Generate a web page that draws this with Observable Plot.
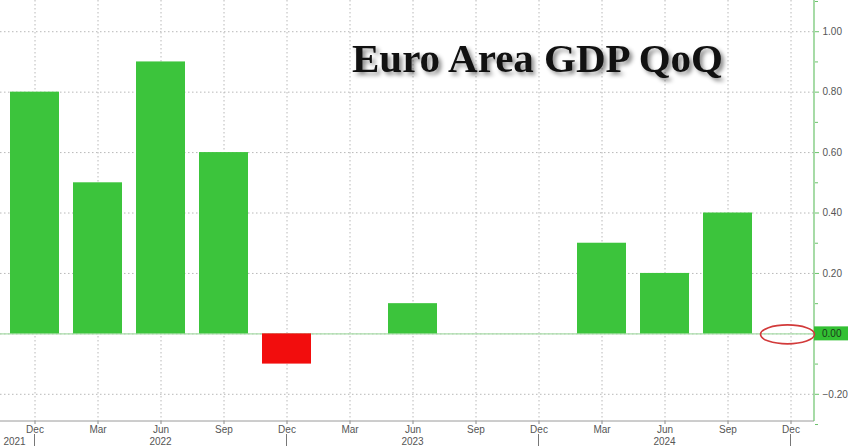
<!DOCTYPE html>
<html>
<head>
<meta charset="utf-8">
<script src="https://cdn.jsdelivr.net/npm/d3@7"></script>
<script src="https://cdn.jsdelivr.net/npm/@observablehq/plot@0.6"></script>
<style>
  html, body { margin: 0; padding: 0; background: #fff; }
  #chart svg { display: block; }
</style>
</head>
<body>
<div id="chart"></div>
<script>
const title = "Euro Area GDP QoQ";
const months = ["Dec","Mar","Jun","Sep","Dec","Mar","Jun","Sep","Dec","Mar","Jun","Sep","Dec"];
const years  = [2021, 2022, 2022, 2022, 2022, 2023, 2023, 2023, 2023, 2024, 2024, 2024, 2024];
const values = [0.8, 0.5, 0.9, 0.6, -0.1, 0.0, 0.1, 0.0, 0.0, 0.3, 0.2, 0.4, null];
const yTicks = [-0.2, 0, 0.2, 0.4, 0.6, 0.8, 1.0];
const yMinorTicks = [-0.3, -0.1, 0.1, 0.3, 0.5, 0.7, 0.9, 1.1];
const yearLabels = ["2021", "2022", "2023", "2024"];
const yearLabelMonth = ["Dec", "Jun", "Jun", "Jun"];

const keys = months.map((m, i) => `${m} ${years[i]}`);
const data = keys.map((k, i) => ({key: k, month: months[i], year: years[i], value: values[i]}));
const yearData = yearLabels.map((y, i) => ({year: y, key: `${yearLabelMonth[i]} ${y}`}));
const highlightKey = keys[keys.length - 1];

const GREEN = "#3cc43c";
const RED = "#f20d0d";
const AXIS_GREEN = "#6cc36c";
const GRID = "#b8b8b8";
const LABEL = "#555";
const narrow = "'Liberation Sans Narrow', 'Arial Narrow', 'Liberation Sans', sans-serif";

function extras(index, scales, values, dims) {
  const g = d3.create("svg:g");
  const x = scales.x, y = scales.y;
  const bw = x.bandwidth ? x.bandwidth() / 2 : 0;
  const right = dims.width - dims.marginRight;
  const bottom = dims.height - dims.marginBottom;
  // bottom axis line
  g.append("line").attr("x1", 0).attr("x2", right).attr("y1", bottom).attr("y2", bottom)
    .attr("stroke", "#9a9a9a").attr("stroke-width", 1);
  // right axis line
  g.append("line").attr("x1", right).attr("x2", right).attr("y1", 0).attr("y2", bottom)
    .attr("stroke", AXIS_GREEN).attr("stroke-width", 1.2);
  // year separators
  data.filter(d => d.month === "Dec").forEach(d => {
    const cx = x(d.key) + bw;
    g.append("line").attr("x1", cx).attr("x2", cx).attr("y1", bottom + 13).attr("y2", dims.height)
      .attr("stroke", "#777").attr("stroke-width", 1);
  });
  // year labels
  yearData.forEach(d => {
    const cx = x(d.key) + bw + (d.year === yearLabels[0] ? -20 : 0);
    g.append("text").attr("x", cx).attr("y", bottom + 20).attr("dy", "0.35em")
      .attr("text-anchor", "middle").attr("font-family", narrow).attr("font-size", 10)
      .attr("fill", LABEL).text(d.year);
  });
  // highlighted zero label box
  const y0 = y(0);
  g.append("rect").attr("x", right).attr("y", y0 - 7).attr("width", dims.width - right).attr("height", 14)
    .attr("fill", "#33c033");
  g.append("text").attr("x", right + 8).attr("y", y0).attr("dy", "0.35em")
    .attr("text-anchor", "start")
    .attr("font-family", "'Liberation Sans', Arial, sans-serif").attr("font-size", 10)
    .attr("fill", "#1a3a1a").text(d3.format(".2f")(0));
  // red ellipse at the latest (not yet released) quarter
  g.append("ellipse").attr("cx", x(highlightKey) + bw - 3).attr("cy", y0 + 1)
    .attr("rx", 27).attr("ry", 9.5)
    .attr("fill", "none").attr("stroke", "#d23a3a").attr("stroke-width", 1.6);
  // title with shadow
  g.append("text").attr("x", 352).attr("y", 72)
    .attr("text-anchor", "start")
    .attr("font-family", "'Liberation Serif', 'Times New Roman', serif")
    .attr("font-weight", "bold").attr("font-size", 41).attr("fill", "#111")
    .style("filter", "drop-shadow(3px 3px 2px rgba(0,0,0,0.45))")
    .text(title);
  return g.node();
}

const plot = Plot.plot({
  width: 848,
  height: 446,
  marginLeft: 0,
  marginRight: 34,
  marginTop: 0,
  marginBottom: 25,
  style: {background: "#fff", fontFamily: "'Liberation Sans', Arial, sans-serif", overflow: "visible"},
  x: {type: "band", domain: keys, range: [0, 826], paddingInner: 0.22, paddingOuter: 0.11, axis: null, label: null},
  y: {domain: [-0.29, 1.1], range: [421, 1], axis: null, label: null},
  marks: [
    Plot.ruleY(yTicks, {stroke: GRID, strokeDasharray: "1.5,2.5", strokeWidth: 1}),
    Plot.ruleX(keys, {stroke: GRID, strokeDasharray: "1.5,2.5", strokeWidth: 1}),
    Plot.ruleY([0], {stroke: "#a8dca8", strokeWidth: 1.2}),
    Plot.barY(data.filter(d => d.value != null && d.value >= 0), {x: "key", y: "value", fill: GREEN}),
    Plot.barY(data.filter(d => d.value != null && d.value < 0), {x: "key", y: "value", fill: RED}),
    Plot.axisX({
      tickFormat: k => k.split(" ")[0], label: null,
      tickSize: 3, tickPadding: 1,
      stroke: "#888", color: LABEL,
      fontFamily: narrow, fontSize: 10
    }),
    Plot.axisY({
      anchor: "right", ticks: yTicks.filter(t => t !== 0), label: null,
      tickFormat: d3.format(".2f"), tickSize: 4, tickPadding: 4,
      stroke: AXIS_GREEN, color: LABEL, fontSize: 10
    }),
    Plot.axisY({
      anchor: "right", ticks: yMinorTicks, tickFormat: () => "", tickSize: 3, label: null,
      stroke: AXIS_GREEN
    }),
    extras
  ]
});

document.getElementById("chart").appendChild(plot);
</script>
</body>
</html>
